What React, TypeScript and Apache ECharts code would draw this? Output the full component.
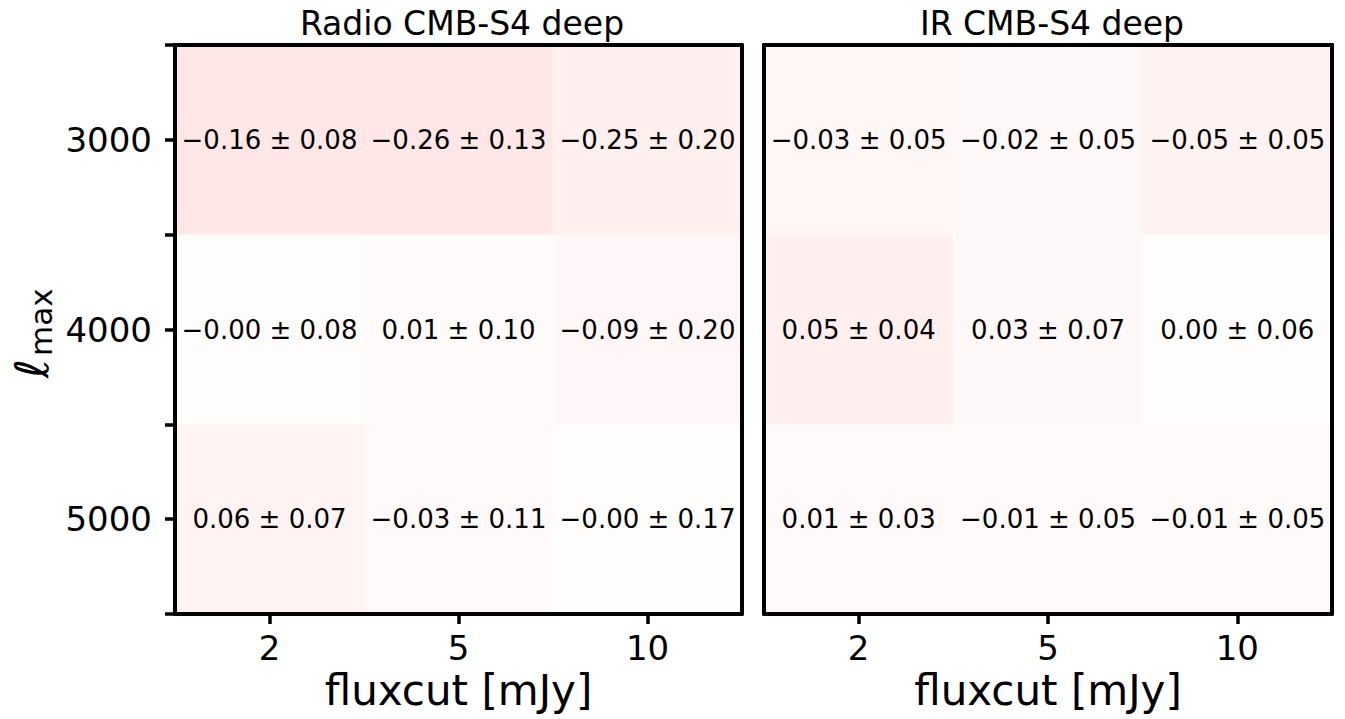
import React, { useEffect, useRef } from "react";
import * as echarts from "echarts";

// Axis categories
const fluxcuts = ["2", "5", "10"];
const lmaxValues = ["3000", "4000", "5000"];

// Bias (mean) and its uncertainty, one row per lmax, one column per fluxcut
const radioMean = [
  [-0.16, -0.26, -0.25],
  [-0.0, 0.01, -0.09],
  [0.06, -0.03, -0.0],
];
const radioErr = [
  [0.08, 0.13, 0.2],
  [0.08, 0.1, 0.2],
  [0.07, 0.11, 0.17],
];
const irMean = [
  [-0.03, -0.02, -0.05],
  [0.05, 0.03, 0.0],
  [0.01, -0.01, -0.01],
];
const irErr = [
  [0.05, 0.05, 0.05],
  [0.04, 0.07, 0.06],
  [0.03, 0.05, 0.05],
];

const panelTitles = ["Radio CMB-S4 deep", "IR CMB-S4 deep"];

const FONT = "DejaVu Sans";

function fmt(v: number): string {
  const neg = v < 0 || Object.is(v, -0);
  return (neg ? "\u2212" : "") + Math.abs(v).toFixed(2);
}

// [x, y, significance |mean|/err, mean, err]
function cells(mean: number[][], err: number[][]) {
  const out: any[] = [];
  mean.forEach((row, yi) =>
    row.forEach((m, xi) => {
      const e = err[yi][xi];
      out.push([xi, yi, Math.abs(m) / e, m, e]);
    })
  );
  return out;
}

export default function App() {
  const ref = useRef<HTMLDivElement>(null);

  useEffect(() => {
    if (!ref.current) return;
    const chart = echarts.init(ref.current, undefined, { renderer: "svg" });

    const lineStyle = { color: "#000", width: 4 };
    const tickStyle = { color: "#000", width: 3.5 };
    const frameX = (gridIndex: number, position: "bottom" | "top", main: boolean) => ({
      type: "category",
      gridIndex,
      position,
      data: fluxcuts,
      z: 10,
      axisLine: { show: true, lineStyle },
      axisTick: main
        ? { show: true, alignWithLabel: true, length: 10, lineStyle: tickStyle }
        : { show: false },
      axisLabel: main
        ? { show: true, fontSize: 34, color: "#000", fontFamily: FONT, margin: 17 }
        : { show: false },
      splitLine: { show: false },
      name: main ? "fluxcut [mJy]" : "",
      nameLocation: "middle",
      nameGap: 52,
      nameTextStyle: { fontSize: 42, color: "#000", fontFamily: FONT },
    });
    const frameY = (
      gridIndex: number,
      position: "left" | "right",
      opts: { line: boolean; labels: boolean; centerTicks: boolean; edgeTicks: boolean }
    ) => ({
      type: "category",
      gridIndex,
      position,
      inverse: true,
      data: lmaxValues,
      z: 10,
      axisLine: { show: opts.line, lineStyle },
      axisTick:
        opts.centerTicks || opts.edgeTicks
          ? { show: true, alignWithLabel: opts.centerTicks, length: 10, lineStyle: tickStyle }
          : { show: false },
      axisLabel: opts.labels
        ? { show: true, fontSize: 34, color: "#000", fontFamily: FONT, margin: 23 }
        : { show: false },
      splitLine: { show: false },
    });

    const label = {
      show: true,
      fontSize: 26,
      color: "#000",
      fontFamily: FONT,
      formatter: (p: any) => `${fmt(p.data[3])} \u00b1 ${p.data[4].toFixed(2)}`,
    };

    const titleStyle = { fontSize: 33, fontWeight: "normal", color: "#000", fontFamily: FONT };

    chart.setOption({
      animation: false,
      backgroundColor: "#fff",
      title: [
        { text: panelTitles[0], left: 457, top: 2, textAlign: "center", textStyle: titleStyle },
        { text: panelTitles[1], left: 1047, top: 2, textAlign: "center", textStyle: titleStyle },
      ],
      grid: [
        { left: 175, top: 45, width: 567, height: 569 },
        { left: 764, top: 45, width: 568, height: 569 },
      ],
      xAxis: [
        frameX(0, "bottom", true),
        frameX(0, "top", false),
        frameX(1, "bottom", true),
        frameX(1, "top", false),
      ],
      yAxis: [
        frameY(0, "left", { line: true, labels: true, centerTicks: true, edgeTicks: false }),
        frameY(0, "left", { line: false, labels: false, centerTicks: false, edgeTicks: true }),
        frameY(0, "right", { line: true, labels: false, centerTicks: false, edgeTicks: false }),
        frameY(1, "left", { line: true, labels: false, centerTicks: false, edgeTicks: false }),
        frameY(1, "right", { line: true, labels: false, centerTicks: false, edgeTicks: false }),
      ],
      visualMap: {
        show: false,
        type: "continuous",
        dimension: 2,
        min: 0,
        max: 2,
        seriesIndex: [0, 1],
        inRange: { color: ["#fffcfc", "#ffe7e7"] },
      },
      graphic: [
        {
          type: "group",
          x: 48,
          y: 378,
          rotation: Math.PI / 2,
          children: [
            {
              type: "text",
              x: 0,
              y: -16,
              style: {
                text: "\u2113",
                font: `italic 46px "${FONT}"`,
                fill: "#000",
                textAlign: "left",
                textVerticalAlign: "middle",
              },
            },
            {
              type: "text",
              x: 22,
              y: -7,
              style: {
                text: "max",
                font: `31px "${FONT}"`,
                fill: "#000",
                textAlign: "left",
                textVerticalAlign: "middle",
              },
            },
          ],
        },
      ],
      series: [
        {
          type: "heatmap",
          xAxisIndex: 0,
          yAxisIndex: 0,
          data: cells(radioMean, radioErr),
          label,
          itemStyle: { borderWidth: 0 },
        },
        {
          type: "heatmap",
          xAxisIndex: 2,
          yAxisIndex: 3,
          data: cells(irMean, irErr),
          label,
          itemStyle: { borderWidth: 0 },
        },
      ],
    });

    return () => chart.dispose();
  }, []);

  return (
    <div
      ref={ref}
      style={{ position: "fixed", left: 0, top: 0, width: 1345, height: 719 }}
    />
  );
}
